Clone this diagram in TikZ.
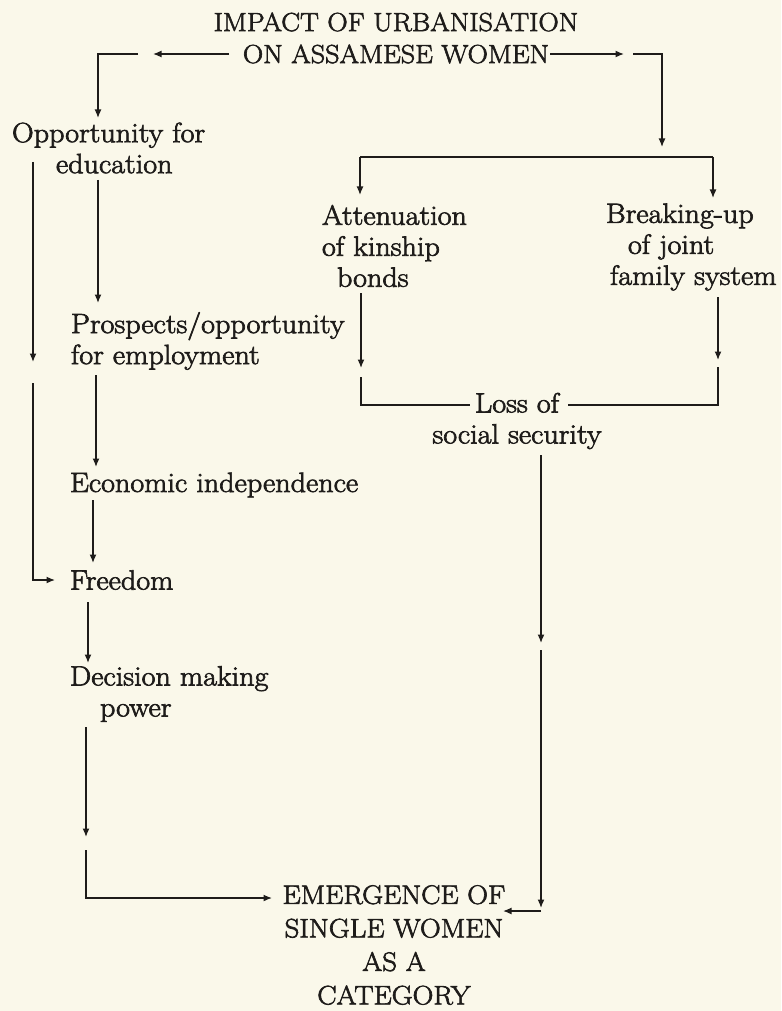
\documentclass[tikz,border=0pt]{standalone}
\usepackage{fontspec}
\setmainfont{Latin Modern Roman}[FakeBold=2.4,FakeStretch=1.08]
\usetikzlibrary{arrows.meta}
\definecolor{paper}{RGB}{250,248,234}
\definecolor{ink}{RGB}{30,28,26}
\begin{document}
\begin{tikzpicture}[x=1pt,y=-1pt,
  every node/.style={inner sep=0pt,outer sep=0pt,text=ink},
  lbl/.style={font=\fontsize{27.9}{31}\selectfont},
  headtxt/.style={font=\fontsize{26.1}{31}\selectfont},
  endtxt/.style={font=\fontsize{26.7}{33.5}\selectfont},
  conn/.style={draw=ink,line width=1.4pt},
  arr/.style={conn,-{Latex[length=8.5pt,width=7pt]}}]
\fill[paper] (0,0) rectangle (781,1011);
\useasboundingbox (0,0) rectangle (781,1011);
% nodes
\node[headtxt] (t1) at (396,22) {IMPACT OF URBANISATION};
\node[headtxt] (t2) at (396,54) {ON ASSAMESE WOMEN};
\node[lbl,align=left,anchor=west] (opp) at (12,148) {Opportunity for\\\hspace*{44pt}education};
\node[lbl,align=left,anchor=west] (pros) at (71,341) {Prospects/opportunity\\for employment};
\node[lbl,anchor=west] (econ) at (70,485) {Economic independence};
\node[lbl,anchor=west] (free) at (70,580) {Freedom};
\node[lbl,align=left,anchor=west] (dec) at (70,694) {Decision making\\\hspace*{30pt}power};
\node[lbl,align=left,anchor=west] (att) at (322,246) {Attenuation\\of kinship\\\hspace*{15pt}bonds};
\node[lbl,align=left,anchor=west] (brk) at (606,247) {Breaking-up\\\hspace*{22pt}of joint\\\hspace*{4pt}family system};
\node[lbl,align=center] (loss) at (517,421) {Loss of\\social security};
\node[endtxt,align=center] (emg) at (394,945) {EMERGENCE OF\\SINGLE WOMEN\\AS A\\CATEGORY};
% coordinates
\coordinate (a1) at (229,54);  \coordinate (a2) at (153,54);
\coordinate (a3) at (138,54);  \coordinate (a4) at (98,54);  \coordinate (a5) at (98,118);
\coordinate (b1) at (550,54);  \coordinate (b2) at (624,54);
\coordinate (b3) at (633,54);  \coordinate (b4) at (662,54);  \coordinate (b5) at (662,147);
\coordinate (j1) at (662,157); \coordinate (j2) at (360,157); \coordinate (j3) at (360,195);
\coordinate (j4) at (713,157); \coordinate (j5) at (713,198);
\coordinate (f1) at (33,162);  \coordinate (f2) at (33,362);
\coordinate (f3) at (33,383);  \coordinate (f4) at (33,580);  \coordinate (f5) at (55,580);
\coordinate (g1) at (98,180);  \coordinate (g2) at (98,303);
\coordinate (h1) at (96,375);  \coordinate (h2) at (96,467);
\coordinate (i1) at (93,500);  \coordinate (i2) at (93,563);
\coordinate (k1) at (88,602);  \coordinate (k2) at (88,663);
\coordinate (m1) at (86,727);  \coordinate (m2) at (86,837);
\coordinate (m3) at (86,850);  \coordinate (m4) at (86,898);  \coordinate (m5) at (272,898);
\coordinate (l1) at (361,293); \coordinate (l2) at (361,368);
\coordinate (l3) at (361,377); \coordinate (l4) at (361,405); \coordinate (l5) at (470,405);
\coordinate (r1) at (718,297); \coordinate (r2) at (718,360);
\coordinate (r3) at (718,367); \coordinate (r4) at (718,405); \coordinate (r5) at (568,405);
\coordinate (n1) at (541,455); \coordinate (n2) at (541,643);
\coordinate (n3) at (541,650); \coordinate (n4) at (541,908);
\coordinate (n5) at (541,911); \coordinate (n6) at (503,911);
% connectors
\draw[arr] (a1) -- (a2);
\draw[arr] (a3) -- (a4) -- (a5);
\draw[arr] (b1) -- (b2);
\draw[arr] (b3) -- (b4) -- (b5);
\draw[conn] (j2) -- (j4);
\draw[arr] (j2) -- (j3);
\draw[arr] (j4) -- (j5);
\draw[arr] (f1) -- (f2);
\draw[arr] (f3) -- (f4) -- (f5);
\draw[arr] (g1) -- (g2);
\draw[arr] (h1) -- (h2);
\draw[arr] (i1) -- (i2);
\draw[arr] (k1) -- (k2);
\draw[arr] (m1) -- (m2);
\draw[arr] (m3) -- (m4) -- (m5);
\draw[arr] (l1) -- (l2);
\draw[conn] (l3) -- (l4) -- (l5);
\draw[arr] (r1) -- (r2);
\draw[conn] (r3) -- (r4) -- (r5);
\draw[arr] (n1) -- (n2);
\draw[arr] (n3) -- (n4);
\draw[arr] (n5) -- (n6);
\end{tikzpicture}
\end{document}
